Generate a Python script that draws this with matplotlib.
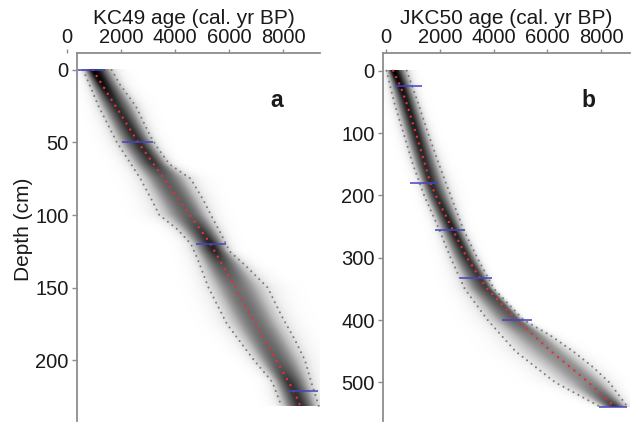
import numpy as np
import matplotlib
matplotlib.use("Agg")
import matplotlib.pyplot as plt

plt.rcParams["font.family"] = ["Liberation Sans", "DejaVu Sans"]

# ---- KC49 age model (depth in cm, age in cal. yr BP) ----
a_med_depth = [0, 25, 50, 75, 100, 120, 150, 175, 200, 222, 232]
a_med_age = [960, 1800, 2640, 3600, 4550, 5320, 6230, 6990, 7750, 8420, 8650]
a_lo_depth = [0, 25, 50, 75, 90, 100, 110, 120, 130, 150, 175, 200, 215, 232]
a_lo_age = [600, 1170, 1850, 2720, 3150, 3420, 4100, 4590, 4830, 5240, 5920, 6920, 7600, 7950]
a_hi_depth = [0, 10, 25, 45, 55, 65, 75, 90, 100, 115, 125, 135, 150, 170, 186, 200, 216, 232]
a_hi_age = [1650, 1960, 2550, 3070, 3400, 3800, 4580, 5060, 5330, 5760, 6020, 6620, 7430,
            7960, 8440, 8810, 9060, 9330]
a_date_depth = [0, 50, 120, 221]
a_date_age = [910, 2610, 5340, 8720]
a_date_err = [490, 580, 545, 575]

# ---- JKC50 age model ----
b_med_depth = [0, 25, 50, 100, 150, 180, 200, 255, 300, 333, 350, 400, 450, 500, 540]
b_med_age = [270, 540, 750, 1110, 1450, 1650, 1850, 2480, 3010, 3500, 3770, 4860, 6130, 7530, 8520]
b_lo_depth = [0, 50, 100, 150, 200, 255, 300, 350, 400, 450, 500, 540]
b_lo_age = [20, 300, 650, 1000, 1420, 1980, 2400, 2930, 3780, 4810, 6290, 8000]
b_hi_depth = [0, 50, 100, 150, 200, 255, 300, 350, 400, 425, 450, 475, 500, 540]
b_hi_age = [770, 1180, 1560, 1970, 2400, 2880, 3390, 4020, 5120, 6120, 6950, 7680, 8300, 8990]
b_date_depth = [25, 180, 255, 333, 400, 540]
b_date_age = [830, 1410, 2380, 3340, 4860, 8440]
b_date_err = [500, 520, 560, 590, 560, 510]

age_ticks = [0, 2000, 4000, 6000, 8000]
a_depth_ticks = [0, 50, 100, 150, 200]
b_depth_ticks = [0, 100, 200, 300, 400, 500]

W, H = 633, 423
fig = plt.figure(figsize=(W / 100, H / 100), dpi=100)

AXIS_GREY = "#8c8c8c"
TEXT = "#1a1a1a"


def px_axes(x0, x1, y0, y1):
    return fig.add_axes([x0 / W, 1 - y1 / H, (x1 - x0) / W, (y1 - y0) / H])


def shade(ax, med_d, med_a, lo_d, lo_a, hi_d, hi_a, xlim):
    """Grey-scale probability band built from the median and 95% bounds."""
    dmax = max(med_d)
    d = np.linspace(0, dmax, 500)
    a = np.linspace(xlim[0], xlim[1], 600)
    m = np.interp(d, med_d, med_a)
    lo = np.interp(d, lo_d, lo_a)
    hi = np.interp(d, hi_d, hi_a)
    sl = (m - lo) / 1.96
    sr = (hi - m) / 1.96
    A = a[None, :]
    M = m[:, None]
    sig = np.where(A < M, sl[:, None], sr[:, None])
    dens = np.exp(-0.5 * ((A - M) / sig) ** 2) * (2.0 / (sl + sr))[:, None]
    dens = (dens / dens.max()) ** 0.6
    ax.imshow(dens, cmap="Greys", vmin=0, vmax=1, extent=[a[0], a[-1], dmax, 0],
              aspect="auto", interpolation="bilinear", zorder=1)


def panel(ax, med_d, med_a, lo_d, lo_a, hi_d, hi_a, dd, da, de, xlim, ylim, yticks,
          title, letter, spine_x):
    shade(ax, med_d, med_a, lo_d, lo_a, hi_d, hi_a, xlim)
    ax.plot(lo_a, lo_d, color="#7a7a7a", lw=1.5, ls=(0, (0.01, 2.7)),
            dash_capstyle="round", zorder=3)
    ax.plot(hi_a, hi_d, color="#7a7a7a", lw=1.5, ls=(0, (0.01, 2.7)),
            dash_capstyle="round", zorder=3)
    ax.plot(med_a, med_d, color="#e8303a", lw=1.8, ls=(0, (0.01, 2.8)),
            dash_capstyle="round", zorder=4)
    da = np.asarray(da)
    de = np.asarray(de)
    ax.hlines(dd, da - de, da + de, color="#4444c4", lw=1.3, alpha=0.85, zorder=5)

    ax.set_xlim(*xlim)
    ax.set_ylim(*ylim)
    ax.xaxis.tick_top()
    ax.xaxis.set_label_position("top")
    ax.set_xticks(age_ticks)
    ax.set_yticks(yticks)
    ax.set_xlabel(title, fontsize=15, labelpad=2.5, color=TEXT)
    ax.tick_params(axis="x", direction="out", length=3, width=1, color=AXIS_GREY,
                   labelsize=14.5, pad=1.5, labelcolor=TEXT)
    ax.tick_params(axis="y", direction="out", length=3.5, width=1, color=AXIS_GREY,
                   labelsize=14.5, pad=2.5, labelcolor=TEXT)
    for s in ("right", "bottom"):
        ax.spines[s].set_visible(False)
    for s in ("left", "top"):
        ax.spines[s].set_color(AXIS_GREY)
        ax.spines[s].set_linewidth(1.3)
    ax.spines["left"].set_position(("data", spine_x))
    ax.spines["top"].set_bounds(spine_x, xlim[1])
    ax.text(0.83, 0.872, letter, transform=ax.transAxes, fontsize=16.5,
            fontweight="bold", ha="center", va="center", color=TEXT)
    ax.set_facecolor("none")


ax_a = px_axes(67, 320, 53, 421)
panel(ax_a, a_med_depth, a_med_age, a_lo_depth, a_lo_age, a_hi_depth, a_hi_age,
      a_date_depth, a_date_age, a_date_err,
      xlim=(0, 9370), ylim=(242, -11.7), yticks=a_depth_ticks,
      title="KC49 age (cal. yr BP)", letter="a", spine_x=370)
ax_a.set_ylabel("Depth (cm)", fontsize=15, color=TEXT)
ax_a.yaxis.set_label_coords(-0.135, 0.522)

ax_b = px_axes(383, 630, 53, 421)
panel(ax_b, b_med_depth, b_med_age, b_lo_depth, b_lo_age, b_hi_depth, b_hi_age,
      b_date_depth, b_date_age, b_date_err,
      xlim=(-110, 9070), ylim=(562, -28.4), yticks=b_depth_ticks,
      title="JKC50 age (cal. yr BP)", letter="b", spine_x=-110)

fig.savefig("out.png", dpi=100, facecolor="white")
